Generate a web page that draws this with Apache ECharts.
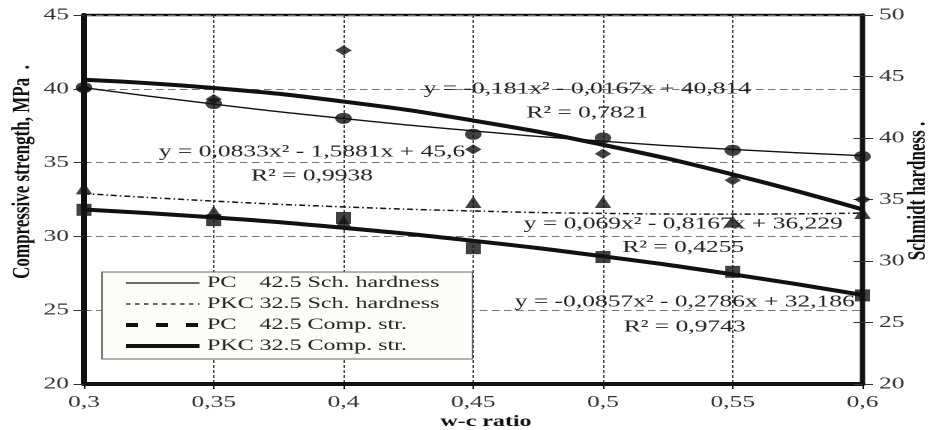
<!DOCTYPE html>
<html>
<head>
<meta charset="utf-8">
<script src="https://cdn.jsdelivr.net/npm/echarts@6/dist/echarts.min.js"></script>
<style>
  html, body { margin: 0; padding: 0; background: #fff; overflow: hidden; }
  #wrap { width: 932px; height: 430px; overflow: hidden; }
  /* the chart is laid out narrow and then stretched 1.5x horizontally */
  #chart { width: 621.33px; height: 430px; transform: scaleX(1.5); transform-origin: 0 0; }
</style>
</head>
<body>
<div id="wrap"><div id="chart"></div></div>
<script>
// water-cement ratio
const wcRatio = [0.3, 0.35, 0.4, 0.45, 0.5, 0.55, 0.6];

// Schmidt hardness (right axis)
const pcSchHardness  = [44.1, 42.8, 41.6, 40.3, 40.0, 39.0, 38.5];
const pkcSchHardness = [35.9, 34.0, 33.2, 34.8, 34.8, 33.2, 33.9];

// compressive strength, MPa (left axis)
const pcCompStr  = [40.0, 39.3, 42.6, 35.9, 35.6, 33.8, 32.5];
const pkcCompStr = [31.8, 31.1, 31.25, 29.2, 28.6, 27.6, 26.0];

// quadratic trend coefficients [a, b, c] for y = a*x^2 + b*x + c, x = point number
const pcSchFit   = [0.0833, -1.5881, 45.6];
const pkcSchFit  = [0.069, -0.8167, 36.229];
const pcCompFit  = [-0.181, -0.0167, 40.814];
const pkcCompFit = [-0.0857, -0.2786, 32.186];

// trend equation texts
const pcSchEq   = ['y = 0,0833x² - 1,5881x + 45,6', 'R² = 0,9938'];
const pcCompEq  = ['y = -0,181x² - 0,0167x + 40,814', 'R² = 0,7821'];
const pkcSchEq  = ['y = 0,069x² - 0,8167x + 36,229', 'R² = 0,4255'];
const pkcCompEq = ['y = -0,0857x² - 0,2786x + 32,186', 'R² = 0,9743'];

const seriesNames = [
  'PC 42.5 Sch. hardness',
  'PKC 32.5 Sch. hardness',
  'PC 42.5 Comp. str.',
  'PKC 32.5 Comp. str.'
];

const leftAxisRange  = [20, 45];
const rightAxisRange = [20, 50];
const xAxisRange = [0.3, 0.6];

const FONT = '"Liberation Serif", "Times New Roman", serif';
const INK = '#111';

function pairs(ys) { return wcRatio.map((x, i) => [x, ys[i]]); }
function trend(c) { return wcRatio.map((x, i) => { const n = i + 1; return [x, c[0] * n * n + c[1] * n + c[2]]; }); }
function commaNum(v) { return String(+v.toFixed(2)).replace('.', ','); }

const chart = echarts.init(document.getElementById('chart'), null, { devicePixelRatio: 2 });

function eqText(lines, x, y1, y2) {
  return lines.map((t, k) => ({
    type: 'text', x: x, y: k === 0 ? y1 : y2, z: 50,
    style: {
      text: t, fill: '#222', font: '17px ' + FONT,
      align: 'center', verticalAlign: 'middle',
      textAlign: 'center', textVerticalAlign: 'middle'
    }
  }));
}

const noMarker = { color: 'rgba(0,0,0,0)', opacity: 0, borderWidth: 0 };

const option = {
  animation: false,
  backgroundColor: '#fff',
  color: [INK, INK, INK, INK],
  grid: { left: 56, right: 46, top: 15, bottom: 46, show: true, borderColor: INK, borderWidth: 2.5, backgroundColor: 'transparent' },
  xAxis: {
    type: 'value', min: xAxisRange[0], max: xAxisRange[1], interval: 0.05,
    axisLine: { lineStyle: { color: INK, width: 4 } },
    axisTick: { length: 5, lineStyle: { color: INK, width: 1 } },
    axisLabel: { formatter: commaNum, fontFamily: FONT, fontSize: 17, color: '#333', margin: 10 },
    splitLine: { show: true, lineStyle: { color: '#444', width: 1, type: [3, 2] } }
  },
  yAxis: [
    {
      type: 'value', position: 'left', min: leftAxisRange[0], max: leftAxisRange[1], interval: 5,
      axisLine: { show: true, lineStyle: { color: INK, width: 4 } },
      axisTick: { show: true, length: 7, lineStyle: { color: '#333', width: 1 } },
      axisLabel: { fontFamily: FONT, fontSize: 17, color: '#333', margin: 10 },
      splitLine: { show: true, lineStyle: { color: '#777', width: 1, type: [5, 3] } }
    },
    {
      type: 'value', position: 'right', min: rightAxisRange[0], max: rightAxisRange[1], interval: 5,
      axisLine: { show: true, lineStyle: { color: INK, width: 3.5 } },
      axisTick: { show: true, length: 7, lineStyle: { color: '#333', width: 1 } },
      axisLabel: { fontFamily: FONT, fontSize: 17, color: '#333', margin: 11 },
      splitLine: { show: false }
    },
    {
      type: 'value', position: 'right', min: rightAxisRange[0], max: rightAxisRange[1], interval: 5,
      axisLine: { show: false },
      axisTick: { show: true, inside: true, length: 6, lineStyle: { color: '#333', width: 1 } },
      axisLabel: { show: false },
      splitLine: { show: false }
    }
  ],
  legend: {
    data: [
      { name: seriesNames[0], itemStyle: noMarker, lineStyle: { color: INK, width: 1.3, type: 'solid' } },
      { name: seriesNames[1], itemStyle: noMarker, lineStyle: { color: INK, width: 1.3, type: [3, 3] } },
      { name: seriesNames[2], itemStyle: noMarker, lineStyle: { color: INK, width: 4, type: [8, 12] } },
      { name: seriesNames[3], itemStyle: noMarker, lineStyle: { color: INK, width: 4, type: 'solid' } }
    ],
    orient: 'vertical', left: 68, top: 272,
    itemWidth: 49, itemHeight: 12, itemGap: 5,
    padding: [3, 22, 5, 14],
    backgroundColor: '#fcfcf9', borderColor: '#666', borderWidth: 1,
    selectedMode: false,
    formatter: name => {
      const i = name.indexOf(' ');
      return '{p|' + name.slice(0, i) + '}' + name.slice(i + 1);
    },
    textStyle: {
      fontFamily: FONT, fontSize: 16, color: '#222', lineHeight: 16,
      rich: { p: { fontFamily: FONT, fontSize: 16, color: '#222', width: 35 } }
    }
  },
  series: [
    // trend curves
    { name: seriesNames[0], type: 'line', yAxisIndex: 1, data: trend(pcSchFit), smooth: true, symbol: 'none', z: 3,
      itemStyle: { color: INK }, lineStyle: { color: INK, width: 1.4 } },
    { name: seriesNames[1], type: 'line', yAxisIndex: 1, data: trend(pkcSchFit), smooth: true, symbol: 'none', z: 3,
      itemStyle: { color: INK }, lineStyle: { color: INK, width: 1.5, type: [4, 2, 1, 2] } },
    { name: seriesNames[2], type: 'line', yAxisIndex: 0, data: trend(pcCompFit), smooth: true, symbol: 'none', z: 3,
      itemStyle: { color: INK }, lineStyle: { color: INK, width: 4 } },
    { name: seriesNames[3], type: 'line', yAxisIndex: 0, data: trend(pkcCompFit), smooth: true, symbol: 'none', z: 3,
      itemStyle: { color: INK }, lineStyle: { color: INK, width: 4 } },
    // measured points
    { name: 'pkcSch-points', type: 'scatter', yAxisIndex: 1, data: pairs(pkcSchHardness), symbol: 'triangle', symbolSize: [11, 12], z: 4,
      itemStyle: { color: INK } },
    { name: 'pkcComp-points', type: 'scatter', yAxisIndex: 0, data: pairs(pkcCompStr), symbol: 'rect', symbolSize: [10, 12], z: 5,
      itemStyle: { color: INK } },
    { name: 'pcComp-points', type: 'scatter', yAxisIndex: 0, data: pairs(pcCompStr), symbol: 'diamond', symbolSize: [11, 10], z: 5,
      itemStyle: { color: INK } },
    { name: 'pcSch-points', type: 'scatter', yAxisIndex: 1, data: pairs(pcSchHardness), symbol: 'circle', symbolSize: 11, z: 6,
      itemStyle: { color: INK } }
  ],
  graphic: [
    ...eqText(pcSchEq, 208, 152, 176),
    ...eqText(pcCompEq, 391.5, 89, 113),
    ...eqText(pkcSchEq, 455.5, 224, 247.5),
    ...eqText(pkcCompEq, 456.5, 302, 327),
    {
      type: 'text', x: 15, y: 172, rotation: Math.PI / 2,
      style: { text: 'Compressive strength, MPa  .', fill: INK, font: 'bold 17px ' + FONT,
        align: 'center', verticalAlign: 'middle', textAlign: 'center', textVerticalAlign: 'middle' }
    },
    {
      type: 'text', x: 612, y: 191, rotation: Math.PI / 2,
      style: { text: 'Schmidt hardness .', fill: INK, font: 'bold 17px ' + FONT,
        align: 'center', verticalAlign: 'middle', textAlign: 'center', textVerticalAlign: 'middle' }
    },
    {
      type: 'text', x: 324, y: 422,
      style: { text: 'w-c ratio', fill: INK, font: 'bold 16px ' + FONT,
        align: 'center', verticalAlign: 'middle', textAlign: 'center', textVerticalAlign: 'middle' }
    }
  ]
};

chart.setOption(option);
</script>
</body>
</html>
